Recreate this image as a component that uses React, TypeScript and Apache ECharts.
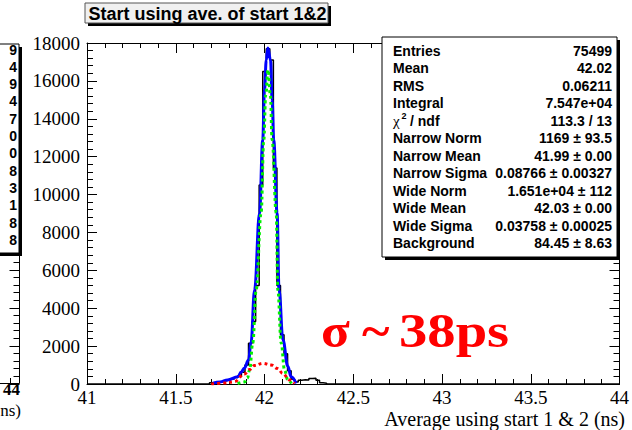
import React, { useEffect, useRef } from "react";
import * as echarts from "echarts";

// ---- axes ----
const xMin = 41;
const xMax = 44;
const xStep = 0.5;
const yMin = 0;
const yMax = 18000;
const yStep = 2000;

// ---- histogram (bin width 0.02, first bin starts at 41.69) ----
const histFirstEdge = 41.69;
const histBinWidth = 0.02;
const histCounts = [
  60, 70, 90, 120, 170, 210, 270, 340, 430, 620, 1000, 2150, 3300, 5200, 10500,
  16500, 17700, 17100, 11400, 5200, 2600, 1600, 700, 250, 100, 200, 220, 210,
  290, 300, 200, 60, 40,
];

// ---- total fit (blue) ----
const totalFitX = [
  41.709, 41.75, 41.792, 41.85, 41.869, 41.887, 41.91, 41.924, 41.944, 41.972,
  41.99, 42.0, 42.01, 42.019, 42.034, 42.043, 42.052, 42.071, 42.082, 42.104,
  42.131, 42.15, 42.178,
];
const totalFitY = [
  37, 110, 211, 385, 634, 845, 1267, 2165, 4963, 9029, 12880, 15520, 17100,
  17740, 17100, 15000, 12880, 9029, 4963, 2323, 950, 385, 37,
];

// ---- wide gaussian component (green dotted) ----
const wideX = [
  41.848, 41.887, 41.904, 41.916, 41.934, 41.953, 41.981, 41.996, 42.007,
  42.02, 42.033, 42.043, 42.066, 42.075, 42.094, 42.113, 42.131, 42.152,
];
const wideY = [
  26, 106, 317, 739, 2165, 4963, 9029, 12880, 15260, 16580, 15260, 12880, 9029,
  4963, 2165, 739, 211, 26,
];

// ---- narrow gaussian component (red dotted) ----
const narrowX = [
  41.7, 41.775, 41.831, 41.887, 41.916, 41.944, 41.99, 42.038, 42.073, 42.103,
  42.141, 42.169,
];
const narrowY = [0, 53, 121, 528, 766, 977, 1093, 1003, 818, 560, 211, 26];

// ---- texts ----
const titleText = "Start using ave. of start 1&2";
const xAxisTitle = "Average using start 1 & 2 (ns)";
const statsNames = [
  "Entries", "Mean", "RMS", "Integral", "CHI", "Narrow Norm", "Narrow Mean",
  "Narrow Sigma", "Wide Norm", "Wide Mean", "Wide Sigma", "Background",
];
const statsValues = [
  "75499", "42.02", "0.06211", "7.547e+04", "113.3 / 13", "1169 ± 93.5",
  "41.99 ± 0.00", "0.08766 ± 0.00327", "1.651e+04 ± 112", "42.03 ± 0.00",
  "0.03758 ± 0.00025", "84.45 ± 8.63",
];
const leftPanelDigits = ["9", "4", "9", "4", "7", "0", "0", "8", "3", "1", "8", "8"];
const leftPanelAxisLabel = "44";
const leftPanelAxisTitle = "ns)";

const SERIF = "Liberation Serif";
const SANS = "Liberation Sans";

function buildHist(): number[][] {
  const d: number[][] = [[xMin, 0], [histFirstEdge, 0]];
  histCounts.forEach((c, i) => {
    d.push([+(histFirstEdge + i * histBinWidth).toFixed(3), c]);
  });
  d.push([+(histFirstEdge + histCounts.length * histBinWidth).toFixed(3), 0]);
  d.push([xMax, 0]);
  return d;
}

const zip = (xs: number[], ys: number[]) => xs.map((x, i) => [x, ys[i]]);

export default function App() {
  const ref = useRef<HTMLDivElement>(null);
  useEffect(() => {
    const chart = echarts.init(ref.current!, null, { renderer: "svg" });

    const graphics: any[] = [];
    // title box
    graphics.push({ type: "rect", z: 100, shape: { x: 88, y: 6, width: 243, height: 20 }, style: { fill: "#000" } });
    graphics.push({ type: "rect", z: 101, shape: { x: 85, y: 3, width: 243, height: 20 }, style: { fill: "#f0f0f0", stroke: "#555", lineWidth: 1 } });
    graphics.push({ type: "text", z: 102, x: 88.5, y: 13.5, style: { text: titleText, font: `bold 18px ${SANS}`, fill: "#000", verticalAlign: "middle" } });

    // stats box
    graphics.push({ type: "rect", z: 100, shape: { x: 385, y: 40, width: 235, height: 220 }, style: { fill: "#000" } });
    graphics.push({ type: "rect", z: 101, shape: { x: 382, y: 37, width: 235, height: 220 }, style: { fill: "#fff", stroke: "#000", lineWidth: 1 } });
    statsNames.forEach((n, i) => {
      const y = 50.7 + i * 17.5;
      if (n === "CHI") {
        graphics.push({ type: "text", z: 102, x: 393, y, style: { text: "χ", font: `15px ${SERIF}`, fill: "#000", verticalAlign: "middle" } });
        graphics.push({ type: "text", z: 102, x: 401.5, y: y - 5, style: { text: "2", font: `bold 9px ${SANS}`, fill: "#000", verticalAlign: "middle" } });
        graphics.push({ type: "text", z: 102, x: 410, y, style: { text: "/ ndf", font: `bold 14px ${SANS}`, fill: "#000", verticalAlign: "middle" } });
      } else {
        graphics.push({ type: "text", z: 102, x: 393, y, style: { text: n, font: `bold 14px ${SANS}`, fill: "#000", verticalAlign: "middle" } });
      }
      graphics.push({ type: "text", z: 102, x: 612, y, style: { text: statsValues[i], font: `bold 14px ${SANS}`, fill: "#000", align: "right", verticalAlign: "middle" } });
    });

    // x axis title
    graphics.push({ type: "text", z: 102, x: 625, y: 419, style: { text: xAxisTitle, font: `20px ${SERIF}`, fill: "#000", align: "right", verticalAlign: "middle" } });

    // sigma annotation
    graphics.push({ type: "text", z: 102, x: 321, y: 331, scaleX: 1.1, style: { text: "σ", font: `bold 48px ${SERIF}`, fill: "#ff0000", verticalAlign: "middle" } });
    graphics.push({ type: "text", z: 102, x: 362, y: 331, scaleX: 1.1, style: { text: "~", font: `bold 48px ${SERIF}`, fill: "#ff0000", verticalAlign: "middle" } });
    graphics.push({ type: "text", z: 102, x: 399, y: 331, scaleX: 1.18, style: { text: "38ps", font: `bold 48px ${SERIF}`, fill: "#ff0000", verticalAlign: "middle" } });

    // cut-off neighbouring panel on the left
    graphics.push({ type: "rect", z: 100, shape: { x: -10, y: 47, width: 32, height: 209 }, style: { fill: "#000" } });
    graphics.push({ type: "rect", z: 101, shape: { x: -13, y: 44, width: 32, height: 209 }, style: { fill: "#fff", stroke: "#000", lineWidth: 1 } });
    leftPanelDigits.forEach((d, i) => {
      graphics.push({ type: "text", z: 102, x: 17, y: 49.5 + i * 17.3, style: { text: d, font: `bold 14px ${SANS}`, fill: "#000", align: "right", verticalAlign: "middle" } });
    });
    graphics.push({ type: "line", z: 102, shape: { x1: 19.5, y1: 256, x2: 19.5, y2: 383.5 }, style: { stroke: "#000", lineWidth: 1 } });
    graphics.push({ type: "line", z: 102, shape: { x1: 0, y1: 383.5, x2: 19.5, y2: 383.5 }, style: { stroke: "#000", lineWidth: 1 } });
    graphics.push({ type: "line", z: 102, shape: { x1: 10.5, y1: 383.5, x2: 10.5, y2: 378 }, style: { stroke: "#000", lineWidth: 1 } });
    for (let k = 0; k <= 17; k++) {
      const y = Math.round(383.5 - k * 7.6) + 0.5;
      if (y < 258) break;
      const len = k % 5 === 0 ? 10 : 6;
      graphics.push({ type: "line", z: 102, shape: { x1: 19.5 - len, y1: y, x2: 19.5, y2: y }, style: { stroke: "#000", lineWidth: 1 } });
    }
    graphics.push({ type: "text", z: 102, x: 20, y: 389, style: { text: leftPanelAxisLabel, font: `bold 17px ${SERIF}`, fill: "#000", align: "right", verticalAlign: "middle" } });
    graphics.push({ type: "text", z: 102, x: 21, y: 410, style: { text: leftPanelAxisTitle, font: `17px ${SERIF}`, fill: "#000", align: "right", verticalAlign: "middle" } });

    const xAxisBase = {
      type: "value",
      min: xMin,
      max: xMax,
      interval: xStep,
      splitLine: { show: false },
      minorSplitLine: { show: false },
      axisLine: { show: true, onZero: false, lineStyle: { color: "#000", width: 1 } },
      axisTick: { show: true, inside: true, length: 10, lineStyle: { color: "#000", width: 1 } },
      minorTick: { show: true, splitNumber: 5, length: 5, lineStyle: { color: "#000", width: 1 } },
    };
    const yAxisBase = {
      type: "value",
      min: yMin,
      max: yMax,
      interval: yStep,
      splitLine: { show: false },
      minorSplitLine: { show: false },
      axisLine: { show: true, onZero: false, lineStyle: { color: "#000", width: 1 } },
      axisTick: { show: true, inside: true, length: 10, lineStyle: { color: "#000", width: 1 } },
      minorTick: { show: true, splitNumber: 5, length: 6, lineStyle: { color: "#000", width: 1 } },
    };

    chart.setOption({
      animation: false,
      backgroundColor: "#fff",
      grid: { left: 87, right: 12, top: 43, bottom: 46, containLabel: false },
      xAxis: [
        {
          ...xAxisBase,
          position: "bottom",
          axisLabel: { show: true, fontFamily: SERIF, fontSize: 19, color: "#000", margin: 4, formatter: (v: number) => String(v) },
        },
        { ...xAxisBase, position: "top", axisLabel: { show: false } },
      ],
      yAxis: [
        {
          ...yAxisBase,
          position: "left",
          axisLabel: { show: true, fontFamily: SERIF, fontSize: 19, color: "#000", margin: 7, formatter: (v: number) => String(v) },
        },
        { ...yAxisBase, position: "right", axisLabel: { show: false } },
      ],
      series: [
        {
          type: "line",
          name: "histogram",
          xAxisIndex: 0,
          yAxisIndex: 0,
          data: buildHist(),
          step: "end",
          symbol: "none",
          lineStyle: { color: "#000", width: 1.5 },
          z: 2,
        },
        {
          type: "line",
          name: "total fit",
          xAxisIndex: 0,
          yAxisIndex: 0,
          data: zip(totalFitX, totalFitY),
          smooth: 0.4,
          smoothMonotone: "x",
          symbol: "none",
          lineStyle: { color: "#0000ff", width: 3 },
          z: 3,
        },
        {
          type: "line",
          name: "wide gaussian",
          xAxisIndex: 0,
          yAxisIndex: 0,
          data: zip(wideX, wideY),
          smooth: 0.4,
          smoothMonotone: "x",
          symbol: "none",
          lineStyle: { color: "#00f000", width: 3, type: [3, 3] },
          z: 4,
        },
        {
          type: "line",
          name: "narrow gaussian",
          xAxisIndex: 0,
          yAxisIndex: 0,
          data: zip(narrowX, narrowY),
          smooth: 0.4,
          smoothMonotone: "x",
          symbol: "none",
          lineStyle: { color: "#ff0000", width: 3, type: [3, 3] },
          z: 4,
        },
      ],
      graphic: graphics,
    });
    return () => chart.dispose();
  }, []);
  return (
    <div
      ref={ref}
      style={{ position: "fixed", left: 0, top: 0, width: 632, height: 430, background: "#fff" }}
    />
  );
}
